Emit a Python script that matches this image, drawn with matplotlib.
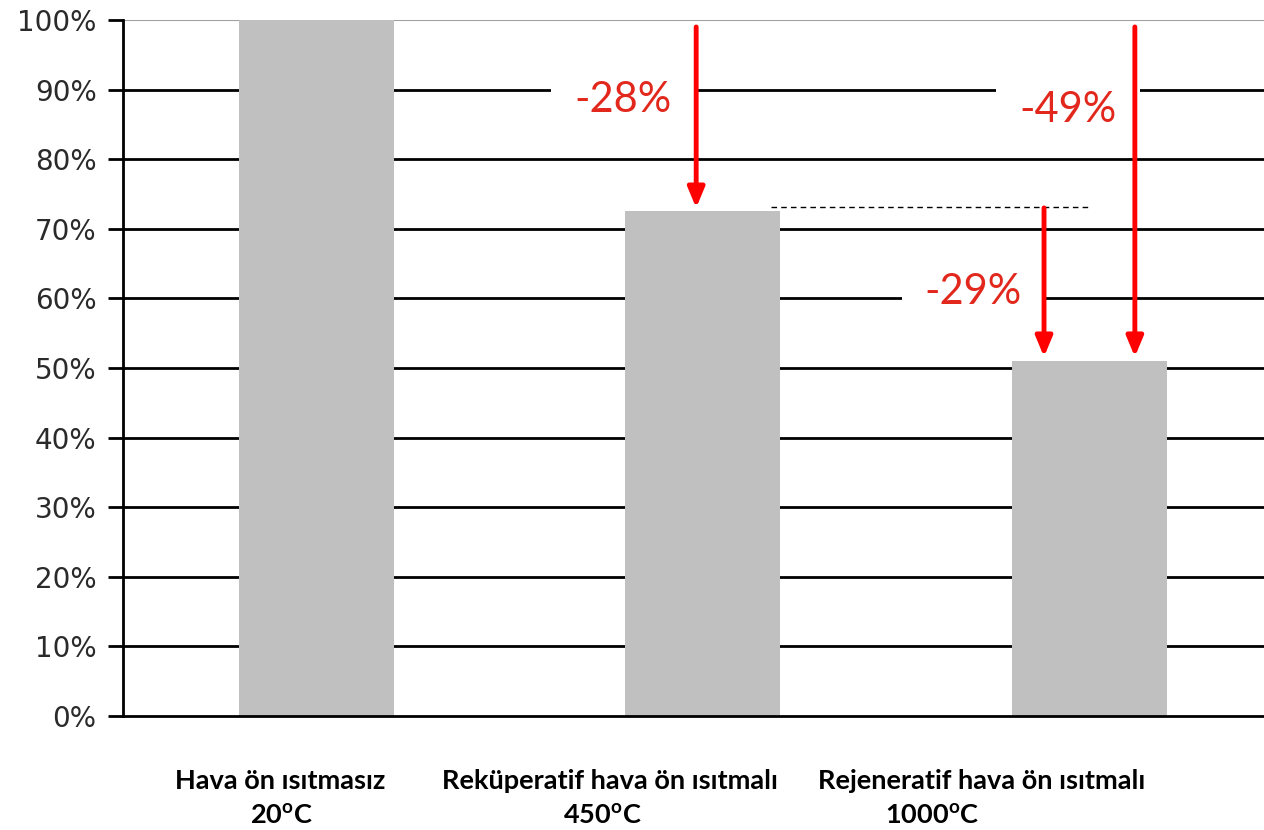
import numpy as np
import matplotlib
matplotlib.use("Agg")
import matplotlib.pyplot as plt

# data
categories = ["Hava ön ısıtmasız", "Reküperatif hava ön ısıtmalı", "Rejeneratif hava ön ısıtmalı"]
temps = ["20", "450", "1000"]
values = [100, 72.6, 51.0]
change_labels = ["-28%", "-29%", "-49%"]

plt.rcParams["mathtext.fontset"] = "custom"
plt.rcParams["mathtext.bf"] = "Lato:bold"
plt.rcParams["mathtext.rm"] = "Lato:bold"

fig = plt.figure(figsize=(12.64, 8.3), dpi=100)
ax = fig.add_axes([123 / 1264, 114 / 830, 1159.5 / 1264, 696 / 830])

x = np.arange(len(values)) + 0.5
ax.bar(x, values, width=0.4, color="#c0c0c0", zorder=2)

ax.set_xlim(0, 3)
ax.set_ylim(0, 100)
yt = np.arange(0, 101, 10)
ax.set_yticks(yt)
ax.set_yticklabels([f"{v}%" for v in yt], fontsize=20, family="DejaVu Sans", color="#2a2a2a")
ax.tick_params(axis="y", length=11, width=2, color="black", pad=8)
ax.set_xticks([])
for v in yt[1:-1]:
    ax.axhline(v, color="black", lw=2, zorder=1)
ax.axhline(100, color="#a0a0a0", lw=1.5, zorder=1)

for s in ["top", "right"]:
    ax.spines[s].set_visible(False)
ax.spines["left"].set_linewidth(2)
ax.spines["bottom"].set_linewidth(2)

# change annotations
red_txt = "#e2271c"
box = dict(facecolor="white", edgecolor="none", boxstyle="square,pad=0.55")
ax.text(1.293, 88.5, change_labels[0], color=red_txt, fontsize=30, family="Lato",
        ha="center", va="center", bbox=box, zorder=3)
ax.text(2.20, 60.9, change_labels[1], color=red_txt, fontsize=30, family="Lato",
        ha="center", va="center", bbox=box, zorder=3)
ax.text(2.445, 87.1, change_labels[2], color=red_txt, fontsize=30, family="Lato",
        ha="center", va="center", bbox=box, zorder=3)

arr = dict(arrowstyle="-|>,head_width=0.5,head_length=1.2", color="red", lw=3.5,
           shrinkA=0, shrinkB=0)
ax.annotate("", xy=(1.483, values[1] + 0.4), xytext=(1.483, 99), arrowprops=arr, zorder=4)
ax.annotate("", xy=(2.383, values[2] + 0.6), xytext=(2.383, values[1] + 0.4), arrowprops=arr, zorder=4)
ax.annotate("", xy=(2.618, values[2] + 0.6), xytext=(2.618, 99), arrowprops=arr, zorder=4)
ax.plot([1.677, 2.499], [values[1] + 0.5] * 2, color="black", lw=1, ls=(0, (4, 3)), zorder=3)

# category labels
line1_x = [0.406, 1.26, 2.222]
line2_x = [0.411, 1.239, 2.093]
for i in range(3):
    ax.text(line1_x[i], -9.4, categories[i], fontsize=19.5, family="Lato", fontweight="bold",
            ha="center", va="center", clip_on=False)
    ax.text(line2_x[i], -14.3, temps[i] + r"$^{\mathbf{o}}$C", fontsize=19.5, family="Lato",
            fontweight="bold", ha="center", va="center", clip_on=False)

fig.savefig("out.png", dpi=100)
